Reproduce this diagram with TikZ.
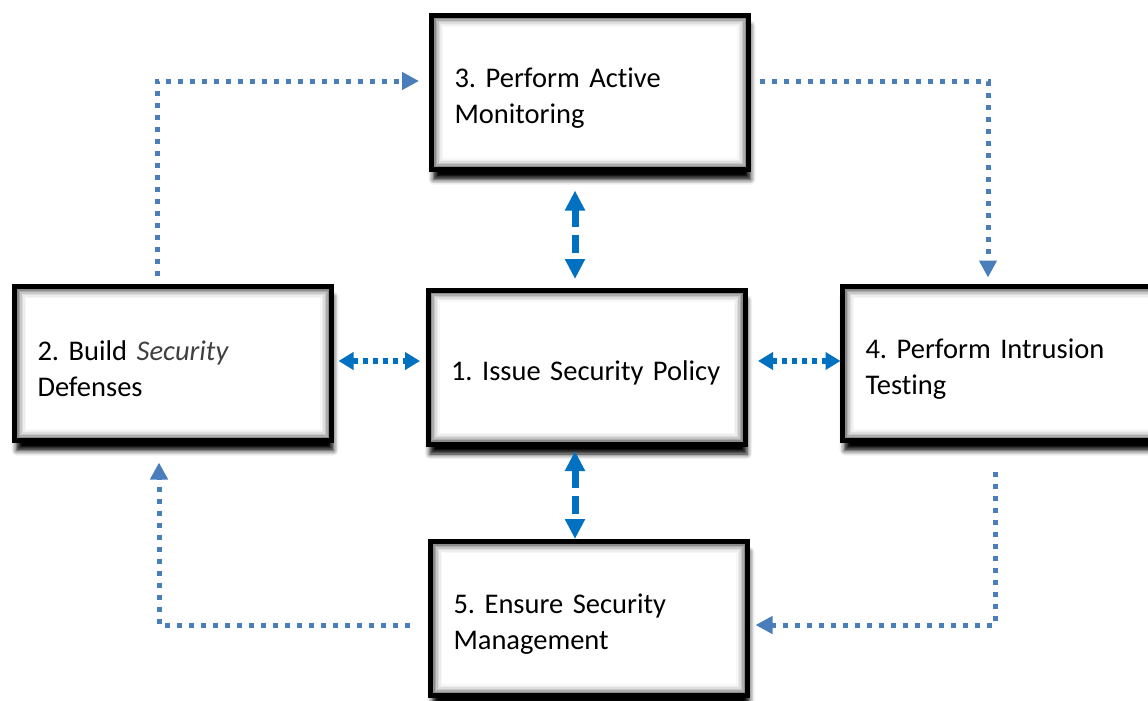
\documentclass[tikz,border=0pt]{standalone}
\usepackage{fontspec}
\setmainfont{Carlito}[Ligatures=NoCommon]
\usetikzlibrary{arrows.meta,shadows.blur}
\definecolor{loopblue}{RGB}{74,126,187}
\definecolor{coreblue}{RGB}{0,112,192}
\definecolor{italgrey}{RGB}{64,64,64}
\frenchspacing
\tikzset{
  stagebox/.style={rectangle, draw=black, line width=5pt, fill=white,
    inner xsep=23pt, inner ysep=0pt, text width=271pt, minimum height=154pt,
    align=left, font=\fontsize{28.5}{36}\selectfont,
    execute at begin node={\rule{0pt}{31pt}},
    blur shadow={shadow xshift=2pt, shadow yshift=-10pt, shadow blur radius=5pt, shadow opacity=100},
    path picture={
      \foreach \d/\c in {0/45,4/32,5.5/22,7/13,8.5/7,10/3,11.5/0}{
        \fill[black!\c] ([shift={(\d*1pt,-\d*1pt)}]path picture bounding box.north west)
          rectangle ([shift={(-\d*1pt,\d*1pt)}]path picture bounding box.south east);
      }
    }},
  loopline/.style={draw=loopblue, line width=5pt, dash pattern=on 5pt off 7pt,
    line join=miter, -{Triangle[length=17pt,width=17pt]}},
  coreh/.style={draw=coreblue, line width=5.5pt, dash pattern=on 5pt off 5pt,
    {Triangle[length=15pt,width=17pt]}-{Triangle[length=15pt,width=17pt]}},
  corev/.style={draw=coreblue, line width=7pt, dash pattern=on 18pt off 8pt,
    {Triangle[length=20pt,width=19pt]}-{Triangle[length=20pt,width=19pt]}},
}
\begin{document}
\begin{tikzpicture}[x=1pt,y=-1pt]
\useasboundingbox (0,0) rectangle (1148,701);
\node[stagebox] (b3) at (590,92.5) {3. Perform Active\\Monitoring};
\node[stagebox] (b2) at (173,363.5) {2. Build {\itshape\color{italgrey}Security}\\Defenses};
\node[stagebox, execute at begin node={}] (b1) at (586.5,367) {\mbox{1. Issue Security Policy}};
\node[stagebox] (b4) at (1001,363.5) {4. Perform Intrusion\\Testing};
\node[stagebox] (b5) at (589,618.5) {5. Ensure Security\\Management};

% outer loop
\draw[loopline] ([xshift=-16pt,yshift=8pt]b2.north) |- ([xshift=-10pt,yshift=11.5pt]b3.west);
\draw[loopline] ([xshift=9pt,yshift=11.5pt]b3.east) -| ([xshift=-13pt,yshift=6.5pt]b4.north);
\draw[loopline] ([xshift=-6pt,yshift=-29pt]b4.south) |- ([xshift=5.5pt,yshift=-6.5pt]b5.east);
\draw[loopline] ([xshift=-18.5pt,yshift=-6.5pt]b5.west) -| ([xshift=-14pt,yshift=-19.5pt]b2.south);

% core links
\draw[coreh] ([xshift=4.5pt,yshift=2.5pt]b2.east) -- ([xshift=-5.5pt,yshift=6pt]b1.west);
\draw[coreh] ([xshift=10.5pt,yshift=6pt]b1.east) -- ([xshift=0.5pt,yshift=2.5pt]b4.west);
\draw[corev] ([xshift=-15pt,yshift=-18.5pt]b3.south) -- ([xshift=-11.5pt,yshift=8.5pt]b1.north);
\draw[corev] ([xshift=-11.5pt,yshift=-4.5pt]b1.south) -- ([xshift=-14pt,yshift=0pt]b5.north);
\end{tikzpicture}
\end{document}
